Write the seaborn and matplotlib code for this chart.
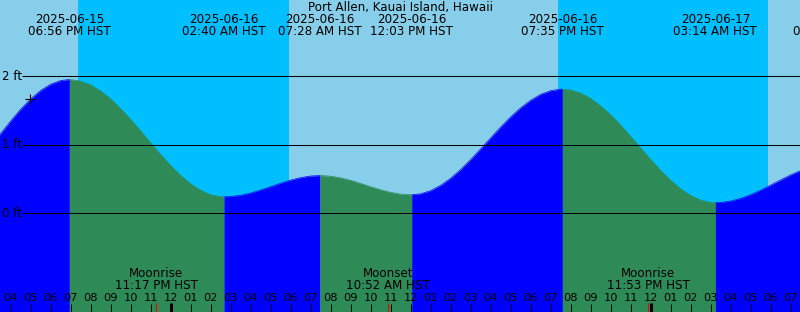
import matplotlib
matplotlib.use("Agg")
import matplotlib.pyplot as plt
import seaborn as sns
import pandas as pd

# ---------------- data ----------------
title = "Port Allen, Kauai Island, Hawaii"
t0 = pd.Timestamp("2025-06-15 16:00")   # reference time (04 PM tick)

# half-hourly tide readings (hours after t0, feet), from -1 h to +40 h
sample_hours = [i * 0.5 for i in range(-2, 81)]
sample_levels = [0.975, 1.162, 1.345, 1.516, 1.666, 1.790, 1.881, 1.935, 1.950, 1.927,
                 1.871, 1.783, 1.666, 1.525, 1.367, 1.199, 1.025, 0.855, 0.695, 0.551,
                 0.429, 0.335, 0.271, 0.242, 0.244, 0.262, 0.295, 0.339, 0.388, 0.438,
                 0.484, 0.520, 0.543, 0.550, 0.541, 0.516, 0.480, 0.435, 0.387, 0.342,
                 0.305, 0.280, 0.270, 0.284, 0.330, 0.407, 0.511, 0.638, 0.783, 0.939,
                 1.099, 1.257, 1.405, 1.537, 1.647, 1.733, 1.787, 1.810, 1.798, 1.752,
                 1.674, 1.566, 1.435, 1.284, 1.120, 0.951, 0.783, 0.624, 0.479, 0.356,
                 0.260, 0.192, 0.159, 0.158, 0.178, 0.217, 0.271, 0.337, 0.411, 0.486,
                 0.559, 0.623, 0.675]

# high / low tide events
tide_event_times = ["2025-06-15 18:56", "2025-06-16 02:40", "2025-06-16 07:28",
                    "2025-06-16 12:03", "2025-06-16 19:35", "2025-06-17 03:14",
                    "2025-06-17 09:12"]
tide_event_levels = [1.95, 0.24, 0.55, 0.27, 1.81, 0.155, 0.73]

# night periods (sunset -> sunrise)
night_starts = ["2025-06-15 19:22", "2025-06-16 19:22"]
night_ends = ["2025-06-16 05:55", "2025-06-17 05:52"]

# moon events
moon_event_names = ["Moonrise", "Moonset", "Moonrise"]
moon_event_times = ["2025-06-15 23:17", "2025-06-16 10:52", "2025-06-16 23:53"]

hour_tick_labels = ["04", "05", "06", "07", "08", "09", "10", "11", "12", "01",
                    "02", "03", "04", "05", "06", "07", "08", "09", "10", "11",
                    "12", "01", "02", "03", "04", "05", "06", "07", "08", "09",
                    "10", "11", "12", "01", "02", "03", "04", "05", "06", "07"]
midnight_ticks = ["2025-06-16 00:00", "2025-06-17 00:00"]

level_ticks = [0, 1, 2]
level_tick_labels = ["0 ft", "1 ft", "2 ft"]

now_time = "2025-06-15 16:58"
now_level = 1.66

# ---------------- helpers ----------------
def hrs(s):
    return (pd.Timestamp(s) - t0) / pd.Timedelta(hours=1)

W, H = 800, 312
XMIN, XMAX = -0.535, 39.465
YMIN, YMAX = -1.439, 3.109

def fy(py):  # pixel-from-top -> axes fraction
    return 1 - py / H

def px_to_x(px):
    return XMIN + (XMAX - XMIN) * px / W

DAY = "#87CEEB"
NIGHT = "#00BFFF"
FLOOD = "#0000FF"
EBB = "#2E8B57"

# ---------------- build curve ----------------
ev_hours = [hrs(t) for t in tide_event_times]
curve = pd.DataFrame({"t": sample_hours + ev_hours,
                      "level": sample_levels + tide_event_levels})
curve = curve.sort_values("t").drop_duplicates("t").reset_index(drop=True)

bounds = [curve["t"].min()] + [h for h in ev_hours if h < curve["t"].max()] + [curve["t"].max()]
segs = []
for i in range(len(bounds) - 1):
    m = (curve["t"] >= bounds[i]) & (curve["t"] <= bounds[i + 1])
    s = curve[m].copy()
    s["segment"] = i
    s["phase"] = "rise" if s["level"].iloc[-1] > s["level"].iloc[0] else "fall"
    segs.append(s)
seg_df = pd.concat(segs, ignore_index=True)

# ---------------- figure ----------------
fig = plt.figure(figsize=(W / 100, H / 100), dpi=100, facecolor=DAY)
ax = fig.add_axes([0, 0, 1, 1])
ax.set_xlim(XMIN, XMAX)
ax.set_ylim(YMIN, YMAX)

for a, b in zip(night_starts, night_ends):
    ax.axvspan(hrs(a), hrs(b), color=NIGHT, lw=0, zorder=0)

pal = {"rise": FLOOD, "fall": EBB}
for s in segs:
    ax.fill_between(s["t"], s["level"], YMIN, color=pal[s["phase"].iloc[0]],
                    lw=0, zorder=1)
sns.lineplot(data=seg_df, x="t", y="level", hue="phase", units="segment",
             estimator=None, palette=pal, legend=False, linewidth=0.5,
             sort=False, ax=ax, zorder=1.5)
ax.set_xlim(XMIN, XMAX)
ax.set_ylim(YMIN, YMAX)
ax.axis("off")

# level lines
ax.hlines(level_ticks, px_to_x(22), XMAX, color="black", lw=0.75, zorder=3)
for lv, lab in zip(level_ticks, level_tick_labels):
    ax.text(2.5 / W, lv, lab, transform=ax.get_yaxis_transform(),
            ha="left", va="center", fontsize=8.6, color="black", zorder=4)

xt = ax.get_xaxis_transform()
fs = 8.6

# title
ax.text(0.5, fy(7.5), title, transform=ax.transAxes, ha="center", va="center",
        fontsize=fs, zorder=5)

# tide event labels
for t, h in zip(tide_event_times, ev_hours):
    ts = pd.Timestamp(t)
    ax.text(h, fy(19.5), ts.strftime("%Y-%m-%d"), transform=xt, ha="center",
            va="center", fontsize=fs, zorder=5)
    ax.text(h, fy(31.5), ts.strftime("%I:%M %p") + " HST", transform=xt,
            ha="center", va="center", fontsize=fs, zorder=5)

# moon labels
for name, t in zip(moon_event_names, moon_event_times):
    ts = pd.Timestamp(t)
    h = hrs(t)
    ax.text(h, fy(273.7), name, transform=xt, ha="center", va="center",
            fontsize=fs, zorder=5)
    ax.text(h, fy(285.3), ts.strftime("%I:%M %p") + " HST", transform=xt,
            ha="center", va="center", fontsize=fs, zorder=5)

# hour ticks
tick_hours = list(range(len(hour_tick_labels)))
ax.vlines(tick_hours, 0, 8 / H, transform=xt, color="black", lw=0.75, zorder=4)
for h, lab in zip(tick_hours, hour_tick_labels):
    ax.text(h, fy(297.7), lab, transform=xt, ha="center", va="center",
            fontsize=8.2, zorder=5)
ax.vlines([hrs(t) for t in midnight_ticks], 0, 9 / H, transform=xt,
          color="black", lw=2.2, zorder=4)
ax.vlines([hrs(t) for t in moon_event_times], 0, 9 / H, transform=xt,
          color="red", lw=0.75, zorder=4.5)

# current-time marker
ax.plot([hrs(now_time)], [now_level], marker="+", ms=6.5, mew=0.8,
        color="black", zorder=5)

fig.savefig("out.png", dpi=100, facecolor=DAY)
